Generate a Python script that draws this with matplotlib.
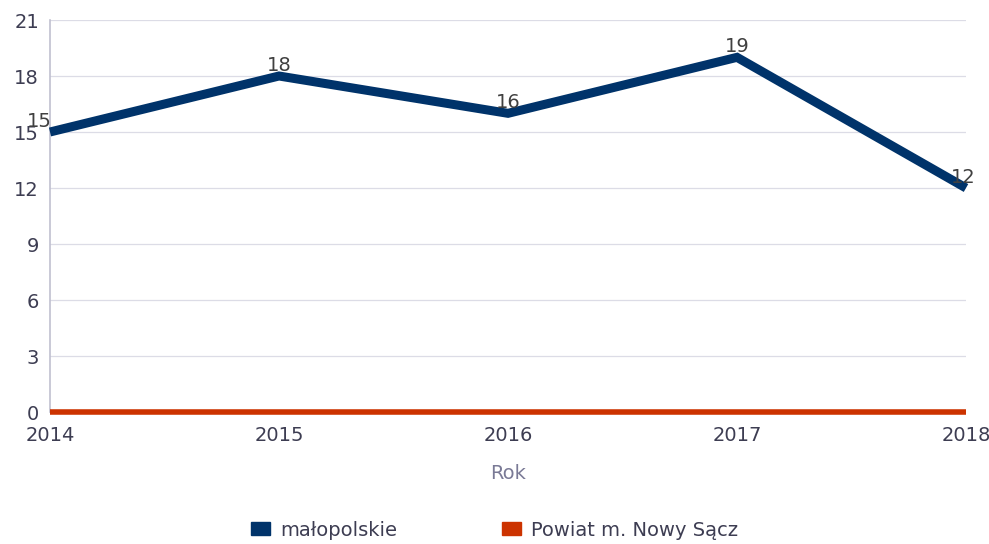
import matplotlib.pyplot as plt
from matplotlib.patches import Patch

years = [2014, 2015, 2016, 2017, 2018]
malopolskie = [15, 18, 16, 19, 12]
nowy_sacz = [0, 0, 0, 0, 0]
yticks = [0, 3, 6, 9, 12, 15, 18, 21]

blue = '#00336a'
red = '#cc3300'
txt = '#3d3d52'

fig = plt.figure(figsize=(9.89, 5.44), dpi=100)
ax = fig.add_axes([50 / 989, 1 - 412 / 544, 916 / 989, 392 / 544])

ax.plot(years, nowy_sacz, color=red, lw=4, solid_capstyle='butt', zorder=3,
        clip_on=False)
ax.plot(years, malopolskie, color=blue, lw=6.5, solid_capstyle='butt',
        solid_joinstyle='miter', zorder=4, clip_on=False)

for i, (x, y) in enumerate(zip(years, malopolskie)):
    dx = -8 if i == 0 else (-2 if i == len(years) - 1 else 0)
    ax.annotate(str(y), (x, y), xytext=(dx, 7.5), textcoords='offset points',
                ha='center', va='center', fontsize=14, color='#404040', zorder=5)

ax.set_xlim(2014, 2018)
ax.set_ylim(0, 21)
ax.set_xticks(years)
ax.set_yticks(yticks)
ax.tick_params(length=0, labelsize=14, labelcolor=txt)
ax.tick_params(axis='x', pad=10)
ax.tick_params(axis='y', pad=8)
ax.grid(axis='y', color='#dcdce6', lw=0.9)
ax.set_axisbelow(True)
for s in ['top', 'right', 'bottom']:
    ax.spines[s].set_visible(False)
ax.spines['left'].set_color('#c0c0d0')
ax.spines['left'].set_linewidth(1.2)

ax.set_xlabel('Rok', fontsize=14, color='#7a7a96', labelpad=14)

handles = [Patch(color=blue), Patch(color=red)]
fig.legend(handles, ['małopolskie', 'Powiat m. Nowy Sącz'], loc='center',
           bbox_to_anchor=(0.5, 1 - 530 / 544), ncol=2, frameon=False,
           fontsize=14, labelcolor=txt, handlelength=1.0, handleheight=0.6,
           handletextpad=0.5, columnspacing=5.4)

fig.savefig('out.png', dpi=100)
